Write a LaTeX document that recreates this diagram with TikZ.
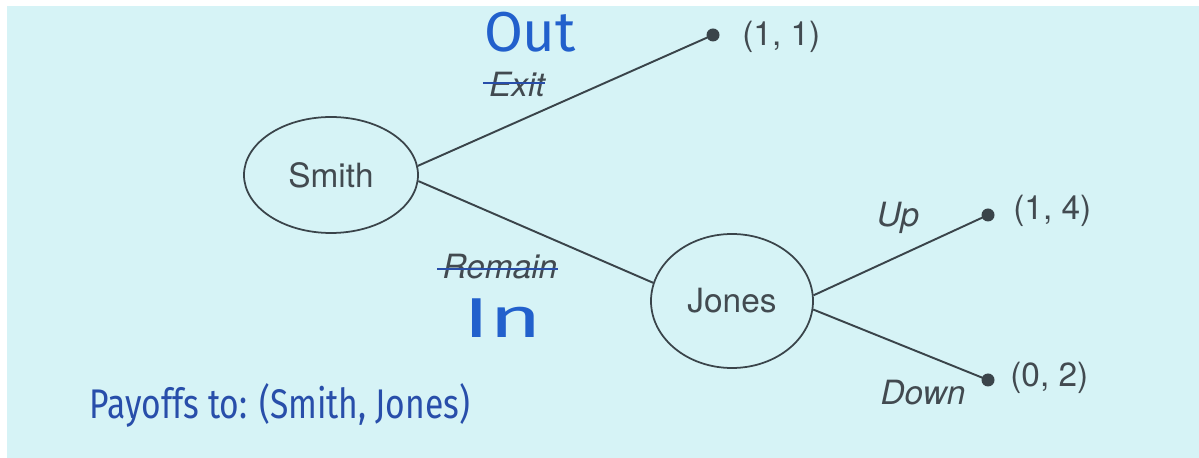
\documentclass[tikz,border=0pt]{standalone}
\usepackage{fontspec}
\setmainfont{TeX Gyre Heros}
\newfontfamily\handfont{Fira Sans}
\usetikzlibrary{shapes.geometric}
\definecolor{bgc}{RGB}{214,243,246}
\definecolor{ink}{RGB}{58,68,74}
\definecolor{txt}{RGB}{66,74,80}
\definecolor{pen}{RGB}{34,96,204}
\definecolor{pendark}{RGB}{40,78,170}
\tikzset{
  player/.style={ellipse, draw=ink, line width=1pt, inner sep=0pt, font=\fontsize{19}{21}\selectfont, text=txt},
  leaf/.style={circle, fill=ink, minimum size=0.26cm, inner sep=0pt},
  branch/.style={draw=ink, line width=1.1pt},
  lbl/.style={inner sep=0pt, font=\fontsize{19}{21}\selectfont, text=txt},
  act/.style={inner sep=0pt, font=\fontsize{19}{21}\selectfont\itshape, text=txt},
  hand/.style={inner sep=0pt, text=pen, font=\handfont\fontsize{32}{34}\selectfont},
  strike/.style={draw=pendark, line width=1pt}
}
\begin{document}
\begin{tikzpicture}
\useasboundingbox (0,0) rectangle (23.98,-9.16);
\fill[white] (0,0) rectangle (23.98,-9.16);
\fill[bgc] (0.14,-0.12) rectangle (23.98,-9.16);

\node[player, minimum width=3.48cm, minimum height=2.32cm] (smith) at (6.62,-3.5) {Smith};
\node[player, minimum width=3.24cm, minimum height=2.68cm] (jones) at (14.64,-6.02) {Jones};

\node[leaf] (o11) at (14.26,-0.70) {};
\node[leaf] (o14) at (19.76,-4.30) {};
\node[leaf] (o02) at (19.76,-7.60) {};

\draw[branch] (smith.6) -- (o11.center);
\draw[branch] (smith.-4) -- (jones.167);
\draw[branch] (jones.4) -- (o14.center);
\draw[branch] (jones.-6) -- (o02.center);

\node[lbl, anchor=west] (p11) at (14.84,-0.74) {(1, 1)};
\node[lbl, anchor=west] (p14) at (20.26,-4.22) {(1, 4)};
\node[lbl, anchor=west] (p02) at (20.20,-7.56) {(0, 2)};

\node[act] (up) at (17.96,-4.36) {Up};
\node[act] (down) at (18.46,-7.86) {Down};

\node[act] (exit) at (10.34,-1.68) {Exit};
\draw[strike] ([xshift=-0.12cm,yshift=0.02cm]exit.west) -- ([yshift=0.02cm]exit.east);
\node[act] (remain) at (10.0,-5.34) {Remain};
\draw[strike] ([xshift=-0.1cm,yshift=-0.04cm]remain.west) -- ([yshift=-0.04cm]remain.east);

\node[hand] (out) at (10.6,-0.64) {Out};
\node[hand] (in) at (10.06,-6.36) {\scalebox{1.6}[1]{In}};

\node[hand, text=pendark, font=\handfont\fontsize{24}{26}\selectfont] (pay) at (5.6,-8.1) {\resizebox{7.6cm}{0.7cm}{Payoffs to: (Smith, Jones)}};
\end{tikzpicture}
\end{document}
